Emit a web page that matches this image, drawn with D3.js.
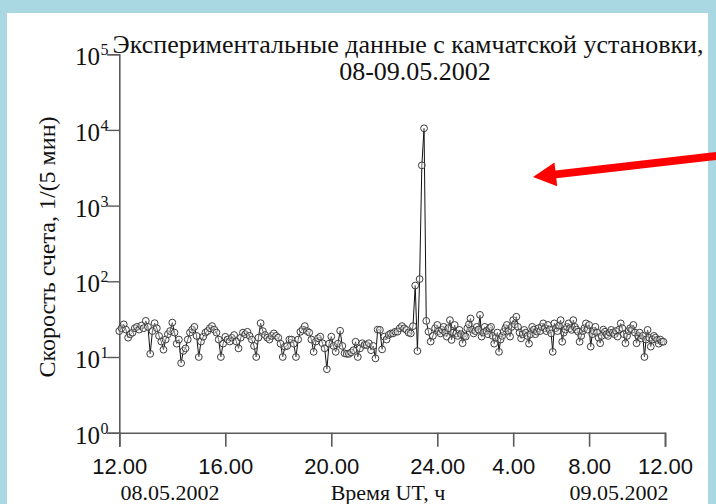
<!DOCTYPE html>
<html>
<head>
<meta charset="utf-8">
<script src="https://cdn.jsdelivr.net/npm/d3@7"></script>
<style>
  html, body { margin: 0; padding: 0; background: #ffffff; }
  svg { display: block; }
</style>
</head>
<body>
<svg id="chart" width="716" height="504"></svg>
<script>
// ---- text ----
const titleLines = ["Экспериментальные данные с камчатской установки,", "08-09.05.2002"];
const yTitle = "Скорость счета, 1/(5 мин)";
const xTitle = "Время UT, ч";
const dateLabels = ["08.05.2002", "09.05.2002"];

// ---- sampling: one reading every 5 minutes starting at 12:00 UT, 08.05.2002 ----
const startHour = 12;
const stepMinutes = 5;

// counts per 5 min, 12:00 (08.05) .. 11:55 (09.05)
const countsDay1 = [
  22, 24, 27, 23, 18, 20, 21, 24, 25, 23, 26, 24, 30, 25, 11, 22, 28, 24, 19, 16,
  12.5, 17, 20, 22, 28.5, 21, 15, 17, 8.3, 12, 13, 17, 21, 23, 25, 19, 10, 16, 18.5, 21,
  22, 24, 25.6, 23, 21, 17, 10, 15, 18.5, 17, 16, 18, 19.5, 16, 13, 18, 21, 20, 21.5, 19,
  17, 14, 10, 18, 28, 22, 19.5, 18, 17, 19, 20.5, 19, 18, 15, 10, 13.7, 14, 17, 17, 15,
  10, 17, 21.5, 23, 25.6, 22, 21, 17, 11.7, 16, 17.7, 18.6, 15.2, 13, 6.9, 15, 18.6, 14, 11.7, 15,
  22.2, 14, 11.2, 11, 11, 11.5, 12.3, 15.9, 10, 13, 15.2, 14.4, 14.4, 15.2, 12.3, 14, 9.6, 23, 22.8, 12.6,
  18.6, 17, 19.6, 20.5, 20.5, 21.6, 21.6, 24, 25.6, 23.9, 22.8, 21, 20.5, 25.6, 88, 12, 107, 3400, 10500, 30,
  21.6, 16, 19, 24
];
const countsDay2 = [
  26.5, 22, 20.5, 23, 25, 21, 18.6, 24, 30.7, 16.8, 21, 26.5, 20.5, 19, 22.8, 20, 15.2, 19, 18.6, 24,
  27, 32.3, 23, 20.5, 22, 25, 23, 36, 18.6, 21, 25, 22, 20, 24, 25, 19, 15, 18, 21, 11.7,
  17, 19, 21.6, 24, 26.5, 22, 18.6, 25, 30.7, 27, 34, 25, 21, 17.6, 20, 22.8, 21, 19, 15, 20,
  25, 23, 20, 21.6, 24, 22, 25, 27.8, 24, 22, 26.5, 23, 20.5, 11.7, 27.8, 24, 22, 26, 30.7, 15.9,
  21, 23, 25, 27.8, 24, 22.8, 30.7, 25, 23, 21.6, 15.9, 19, 22, 24, 27.8, 23, 26.5, 13.7, 20, 22,
  25, 21, 18, 15.2, 19, 23, 21.6, 20, 19, 21, 22.8, 21, 20, 22, 18.6, 23, 27.8, 24, 20, 15.2,
  19, 22, 24, 23, 26.5, 21, 15.2, 19, 21, 17.6, 19, 10, 17, 22.8, 18, 13.7, 17, 19, 18, 16.8,
  15, 17, 15.9, 15.9
];
const counts = countsDay1.concat(countsDay2);

// ---- axis ticks ----
const xMajorTicks = [12, 16, 20, 24, 28, 32, 36];
const xMajorLabels = ["12.00", "16.00", "20.00", "24.00", "4.00", "8.00", "12.00"];
const xMinorTicks = [14, 18, 22, 26, 30, 34];
const yDecades = [0, 1, 2, 3, 4, 5];

// ---- page ----
const svg = d3.select("#chart");
const W = 716, H = 504;

// slide background and white sheet
svg.append("rect").attr("x", 0).attr("y", 0).attr("width", W).attr("height", H).attr("fill", "#a9d8e2");
svg.append("rect").attr("x", 7).attr("y", 13).attr("width", 701).attr("height", H - 13).attr("fill", "#ffffff");

// ---- scales: the time axis is stretched before midnight and compressed after ----
const x = d3.scaleLinear().domain([12, 24, 36]).range([119.3, 437.3, 665]);
const y = d3.scaleLog().domain([1, 1e5]).range([432.7, 54.2]);

const axisColor = "#5a5a5a";
const data = counts.map((v, i) => ({ t: startHour + i * stepMinutes / 60, v }));

// ---- x axis ----
const gx = svg.append("g").attr("transform", `translate(0,${y(1)})`);
gx.call(d3.axisBottom(x).tickValues(xMinorTicks).tickSize(6).tickFormat(""));
gx.call(d3.axisBottom(x).tickValues(xMajorTicks).tickSize(14).tickPadding(12)
  .tickFormat((d, i) => xMajorLabels[i]));
gx.selectAll(".domain").attr("stroke", axisColor).attr("stroke-width", 1.6);
gx.selectAll(".tick line").attr("stroke", axisColor).attr("stroke-width", 1.6);
gx.selectAll(".tick text")
  .attr("fill", "#111")
  .attr("font-family", "'Liberation Sans', Arial, sans-serif")
  .attr("font-size", 22);

// ---- y axis (log) ----
const yMinor = [];
yDecades.slice(0, -1).forEach(e => { for (let k = 2; k <= 9; k++) yMinor.push(k * Math.pow(10, e)); });
const yMajor = yDecades.map(e => Math.pow(10, e));

const gy = svg.append("g").attr("transform", `translate(${x(12)},0)`);
gy.call(d3.axisLeft(y).tickValues(yMinor).tickSize(6).tickFormat(""));
gy.call(d3.axisLeft(y).tickValues(yMajor).tickSize(12).tickFormat(""));
gy.selectAll(".domain").attr("stroke", axisColor).attr("stroke-width", 1.6);
gy.selectAll(".tick line").attr("stroke", axisColor).attr("stroke-width", 1.4);

// power-of-ten labels
const serif = "'Liberation Serif', 'Times New Roman', serif";
const yLab = svg.append("g").attr("fill", "#111").attr("font-family", serif);
yDecades.forEach(e => {
  const py = y(Math.pow(10, e));
  yLab.append("text").attr("x", 100).attr("y", py + 11).attr("text-anchor", "end")
    .attr("font-size", 25).text("10");
  yLab.append("text").attr("x", 100.5).attr("y", py + 1).attr("text-anchor", "start")
    .attr("font-size", 16).text(String(e));
});

// ---- series ----
const line = d3.line().x(d => x(d.t)).y(d => y(d.v));
svg.append("path").datum(data).attr("d", line)
  .attr("fill", "none").attr("stroke", "#111").attr("stroke-width", 1);
svg.append("g").selectAll("circle").data(data).join("circle")
  .attr("cx", d => x(d.t)).attr("cy", d => y(d.v)).attr("r", 3.4)
  .attr("fill", "rgba(255,255,255,0.35)").attr("stroke", "#3c3c3c").attr("stroke-width", 1);

// ---- titles ----
svg.append("text").attr("x", 408).attr("y", 53).attr("text-anchor", "middle")
  .attr("font-family", serif).attr("font-size", 26).attr("fill", "#111").text(titleLines[0]);
svg.append("text").attr("x", 415).attr("y", 80).attr("text-anchor", "middle")
  .attr("font-family", serif).attr("font-size", 26).attr("fill", "#111").text(titleLines[1]);

svg.append("text").attr("transform", "translate(55,247) rotate(-90)").attr("text-anchor", "middle")
  .attr("font-family", serif).attr("font-size", 24).attr("fill", "#111").text(yTitle);

svg.append("text").attr("x", 388).attr("y", 500).attr("text-anchor", "middle")
  .attr("font-family", serif).attr("font-size", 22).attr("fill", "#111").text(xTitle);
svg.append("text").attr("x", 170).attr("y", 500).attr("text-anchor", "middle")
  .attr("font-family", serif).attr("font-size", 22).attr("fill", "#111").text(dateLabels[0]);
svg.append("text").attr("x", 619).attr("y", 500).attr("text-anchor", "middle")
  .attr("font-family", serif).attr("font-size", 22).attr("fill", "#111").text(dateLabels[1]);

// ---- red pointer arrow ----
const tip = [533, 177], tail = [716, 156];
const len = Math.hypot(tail[0] - tip[0], tail[1] - tip[1]);
const ux = (tail[0] - tip[0]) / len, uy = (tail[1] - tip[1]) / len;
const headLen = 23, headHalf = 12;
const base = [tip[0] + ux * headLen, tip[1] + uy * headLen];
svg.append("line")
  .attr("x1", base[0] - ux * 2).attr("y1", base[1] - uy * 2)
  .attr("x2", tail[0] + ux * 5).attr("y2", tail[1] + uy * 5)
  .attr("stroke", "#ff0000").attr("stroke-width", 8);
svg.append("path")
  .attr("d", d3.line()([tip,
    [base[0] - uy * headHalf, base[1] + ux * headHalf],
    [base[0] + uy * headHalf, base[1] - ux * headHalf]]) + "Z")
  .attr("fill", "#ff0000");
</script>
</body>
</html>
